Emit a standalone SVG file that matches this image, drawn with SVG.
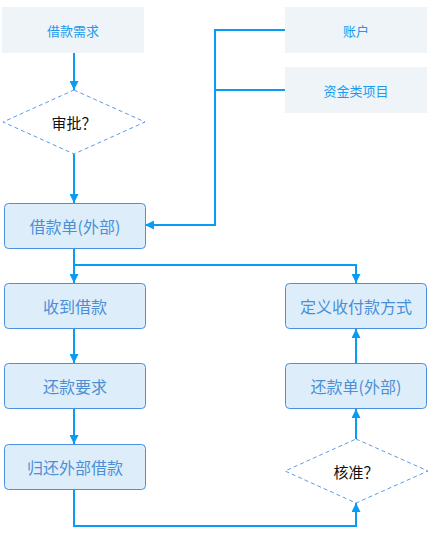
<svg xmlns="http://www.w3.org/2000/svg" width="433" height="539" viewBox="0 0 433 539">
<defs>
<style>
.src{fill:#EEF4F8;stroke:none}
.src-t{font-family:"Noto Sans CJK SC","Noto Sans",sans-serif;font-size:13px;fill:#1A9BF0;text-anchor:middle;dominant-baseline:central}
.box{fill:#DEEDFA;stroke:#4A90E0;stroke-width:1}
.box-t{font-family:"Noto Sans CJK SC","Noto Sans",sans-serif;font-size:16px;fill:#4A8FD6;text-anchor:middle;dominant-baseline:central}
.dia{fill:#FFFFFF;stroke:#5A9BE6;stroke-width:1;stroke-dasharray:4 3}
.dia-t{font-family:"Noto Sans CJK SC","Noto Sans",sans-serif;font-size:15px;fill:#111111;text-anchor:middle;dominant-baseline:central}
.c{fill:none;stroke:#0A9BF5;stroke-width:2}
</style>
<marker id="ah" viewBox="0 0 10 10" refX="10" refY="5" markerWidth="4.5" markerHeight="4.5" orient="auto" markerUnits="strokeWidth">
<path d="M0,0 L10,5 L0,10 Z" fill="#0A9BF5"/>
</marker>
</defs>
<rect width="433" height="539" fill="#FFFFFF"/>
<g id="connectors">
<path class="c" d="M74,53 V90" marker-end="url(#ah)"/>
<path class="c" d="M74,154 V203" marker-end="url(#ah)"/>
<path class="c" d="M285,30 H215 V225 H145" marker-end="url(#ah)"/>
<path class="c" d="M285,90 H215"/>
<path class="c" d="M74,248 V283" marker-end="url(#ah)"/>
<path class="c" d="M74,265 H356 V283" marker-end="url(#ah)"/>
<path class="c" d="M74,329 V363" marker-end="url(#ah)"/>
<path class="c" d="M74,409 V444" marker-end="url(#ah)"/>
<path class="c" d="M74,489 V526 H356 V503" marker-end="url(#ah)"/>
<path class="c" d="M356,439 V409" marker-end="url(#ah)"/>
<path class="c" d="M356,363 V329" marker-end="url(#ah)"/>
</g>
<g id="n-jiekuanxuqiu">
<rect class="src" x="2" y="7" width="142" height="46"/>
<text class="src-t" x="73" y="30">借款需求</text>
</g>
<g id="n-zhanghu">
<rect class="src" x="285" y="7" width="142" height="46"/>
<text class="src-t" x="356" y="30">账户</text>
</g>
<g id="n-zijinlei">
<rect class="src" x="285" y="67" width="142" height="46"/>
<text class="src-t" x="356" y="90">资金类项目</text>
</g>
<g id="n-shenpi">
<polygon class="dia" points="74,90 145,122 74,154 3,122"/>
<text class="dia-t" x="74" y="122">审批？</text>
</g>
<g id="n-jiekuandan">
<rect class="box" x="4.5" y="203.5" width="141" height="45" rx="4"/>
<text class="box-t" x="75" y="226">借款单(外部)</text>
</g>
<g id="n-shoudao">
<rect class="box" x="4.5" y="283.5" width="141" height="45" rx="4"/>
<text class="box-t" x="75" y="306">收到借款</text>
</g>
<g id="n-huankuanyaoqiu">
<rect class="box" x="4.5" y="363.5" width="141" height="45" rx="4"/>
<text class="box-t" x="75" y="386">还款要求</text>
</g>
<g id="n-guihuan">
<rect class="box" x="4.5" y="444.5" width="141" height="45" rx="4"/>
<text class="box-t" x="75" y="467">归还外部借款</text>
</g>
<g id="n-dingyi">
<rect class="box" x="285.5" y="283.5" width="141" height="45" rx="4"/>
<text class="box-t" x="356" y="306">定义收付款方式</text>
</g>
<g id="n-huankuandan">
<rect class="box" x="285.5" y="363.5" width="141" height="45" rx="4"/>
<text class="box-t" x="356" y="386">还款单(外部)</text>
</g>
<g id="n-hezhun">
<polygon class="dia" points="356,439 428,471 356,503 285,471"/>
<text class="dia-t" x="356" y="471">核准？</text>
</g>
</svg>
